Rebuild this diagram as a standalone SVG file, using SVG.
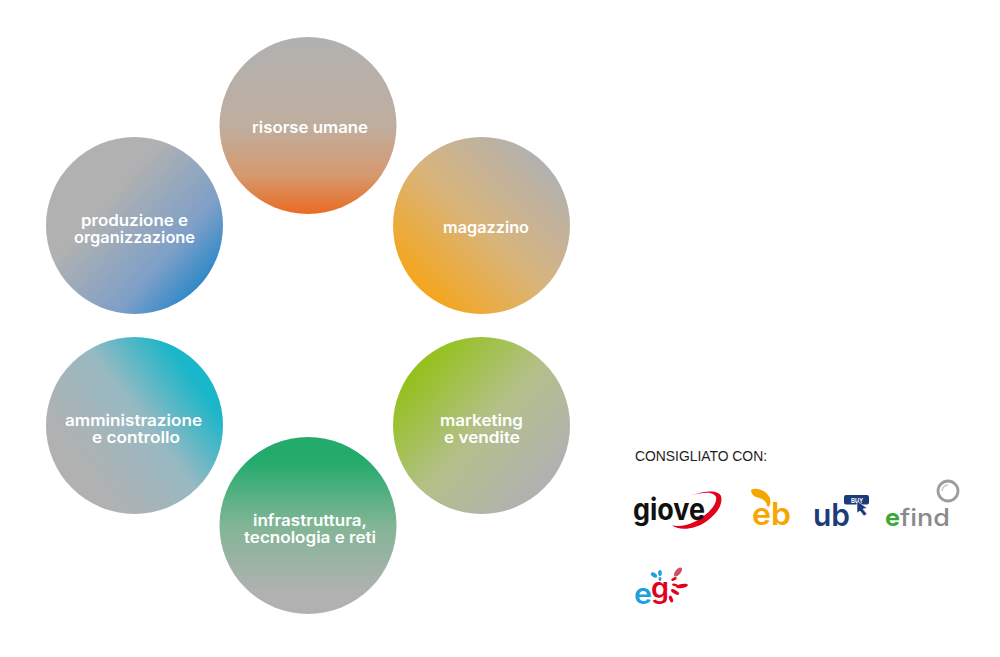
<svg xmlns="http://www.w3.org/2000/svg" width="1000" height="657" viewBox="0 0 1000 657">
<defs>
<linearGradient id="gTop" x1="0" y1="0" x2="0" y2="1"><stop offset="0" stop-color="#b1b1b1"/><stop offset=".5" stop-color="#bfae9f"/><stop offset=".78" stop-color="#d6996f"/><stop offset="1" stop-color="#ea6b22"/></linearGradient>
<linearGradient id="gMag" gradientUnits="userSpaceOnUse" x1="545" y1="160" x2="415" y2="292"><stop offset="0" stop-color="#b1b1b1"/><stop offset=".5" stop-color="#d9b47c"/><stop offset="1" stop-color="#f6a516"/></linearGradient>
<linearGradient id="gMkt" gradientUnits="userSpaceOnUse" x1="415" y1="375" x2="540" y2="490"><stop offset="0" stop-color="#95c11f"/><stop offset=".5" stop-color="#b3c08a"/><stop offset="1" stop-color="#b1b1b1"/></linearGradient>
<linearGradient id="gInf" x1="0" y1="0" x2="0" y2="1"><stop offset="0" stop-color="#24ab6c"/><stop offset=".14" stop-color="#24ab6c"/><stop offset=".5" stop-color="#82b596"/><stop offset=".88" stop-color="#b1b1b1"/><stop offset="1" stop-color="#b1b1b1"/></linearGradient>
<linearGradient id="gAdm" gradientUnits="userSpaceOnUse" x1="198" y1="384" x2="82" y2="472"><stop offset="0" stop-color="#1ab6c9"/><stop offset=".45" stop-color="#98b9c2"/><stop offset="1" stop-color="#b1b1b1"/></linearGradient>
<linearGradient id="gPro" gradientUnits="userSpaceOnUse" x1="214" y1="288" x2="110" y2="196"><stop offset="0" stop-color="#1a83c8"/><stop offset=".4" stop-color="#7d9fc8"/><stop offset="1" stop-color="#b1b1b1"/></linearGradient>
</defs>
<style>
.lbl{font-family:"Inter","Liberation Sans",sans-serif;font-weight:600;font-size:15.5px;fill:#fff;text-anchor:middle}
.cap{font-family:"Liberation Sans",Arial,sans-serif;font-size:14px;fill:#1d1d1b}
.logo{font-family:"Inter","Liberation Sans",sans-serif;font-weight:700}
</style>
<rect width="1000" height="657" fill="#fff"/>
<g id="node-risorse"><circle cx="308" cy="125.500" r="88.500" fill="url(#gTop)"/><text class="lbl" x="310" y="132.500" textLength="116" lengthAdjust="spacingAndGlyphs">risorse umane</text></g>
<g id="node-magazzino"><circle cx="481.500" cy="225.500" r="88.500" fill="url(#gMag)"/><text class="lbl" x="486" y="233" textLength="86" lengthAdjust="spacingAndGlyphs">magazzino</text></g>
<g id="node-marketing"><circle cx="481.500" cy="425.500" r="88.500" fill="url(#gMkt)"/><text class="lbl" x="481.500" y="425.500" textLength="83" lengthAdjust="spacingAndGlyphs">marketing</text><text class="lbl" x="482" y="442.500" textLength="76" lengthAdjust="spacingAndGlyphs">e vendite</text></g>
<g id="node-infrastruttura"><circle cx="308" cy="525.500" r="88.500" fill="url(#gInf)"/><text class="lbl" x="310" y="525.500" textLength="114" lengthAdjust="spacingAndGlyphs">infrastruttura,</text><text class="lbl" x="310" y="542.500" textLength="132" lengthAdjust="spacingAndGlyphs">tecnologia e reti</text></g>
<g id="node-amministrazione"><circle cx="134.500" cy="425.500" r="88.500" fill="url(#gAdm)"/><text class="lbl" x="133.500" y="425.500" textLength="137" lengthAdjust="spacingAndGlyphs">amministrazione</text><text class="lbl" x="136" y="442.500" textLength="88" lengthAdjust="spacingAndGlyphs">e controllo</text></g>
<g id="node-produzione"><circle cx="134.500" cy="225.500" r="88.500" fill="url(#gPro)"/><text class="lbl" x="134.500" y="225.500" textLength="107" lengthAdjust="spacingAndGlyphs">produzione e</text><text class="lbl" x="134.500" y="242.500" textLength="121" lengthAdjust="spacingAndGlyphs">organizzazione</text></g>
<g id="connectors"/>
<text class="cap" x="635" y="460.500" textLength="132" lengthAdjust="spacingAndGlyphs">CONSIGLIATO CON:</text>
<g id="logo-giove">
<path d="M672 525C678 531 695 530 707 521C718 513 723 504 721 496C719 491 708 489 690 496C705 491 714 492 716 497C718 505 705 517 694 522C686 526 677 527 672 525Z" fill="#e2001a"/>
<text class="logo" x="633" y="520" font-size="30" fill="#111" textLength="72" lengthAdjust="spacingAndGlyphs">giove</text>
</g>
<g id="logo-eb">
<path d="M751 490C756 487 766 490 770 498C771 502 770 505 769 507L767 506C767 500 760 498 756 497C753 496 751 493 751 490Z" fill="#f7a600"/>
<text x="752" y="525" font-family="Inter,sans-serif" font-weight="600" font-size="31" fill="#f7a600" textLength="39" lengthAdjust="spacingAndGlyphs">eb</text>
</g>
<g id="logo-ub">
<rect x="844" y="495" width="25" height="9.500" rx="2" fill="#1d3b7a"/>
<text x="851" y="502.500" font-family="Liberation Sans, sans-serif" font-weight="700" font-size="7" fill="#fff" textLength="12" lengthAdjust="spacingAndGlyphs">BUY</text>
<path d="M857 501L867 508L863 509L867 514L864 516L860 511L857 513Z" fill="#1d3b7a" stroke="#fff" stroke-width=".6"/>
<text x="813" y="526" font-family="Inter,sans-serif" font-weight="600" font-size="31" fill="#1d3b7a" textLength="37" lengthAdjust="spacingAndGlyphs">ub</text>
</g>
<g id="logo-efind">
<circle cx="948" cy="491" r="10" fill="none" stroke="#9d9d9c" stroke-width="2.800"/>
<path d="M942 491A6 6 0 0 1 948 485" fill="none" stroke="#c6c6c6" stroke-width="1.500"/>
<text class="logo" x="885" y="526" font-size="24" fill="#3aaa35" textLength="15" lengthAdjust="spacingAndGlyphs">e</text>
<text x="900" y="526" font-family="Inter, sans-serif" font-weight="500" font-size="24" fill="#8a8a8a" textLength="50" lengthAdjust="spacingAndGlyphs">find</text>
</g>
<g id="logo-eg">
<text x="634" y="604" font-family="Inter,sans-serif" font-weight="600" font-size="29" fill="#1d9fe0" textLength="18" lengthAdjust="spacingAndGlyphs">e</text>
<text x="651" y="598" font-family="Inter,sans-serif" font-weight="600" font-size="28" fill="#e2001a" textLength="18" lengthAdjust="spacingAndGlyphs">g</text>
<ellipse cx="654" cy="575" rx="3.500" ry="2" transform="rotate(35 654 575)" fill="#1d9fe0"/>
<ellipse cx="660" cy="573" rx="1.800" ry="3" fill="#1d9fe0"/>
<ellipse cx="660" cy="579" rx="1.500" ry="2" fill="#1d9fe0"/>
<ellipse cx="678" cy="572" rx="5.500" ry="2.600" transform="rotate(-50 678 572)" fill="#cf4f64"/>
<ellipse cx="674" cy="579" rx="3" ry="1.500" transform="rotate(-25 674 579)" fill="#e2001a"/>
<ellipse cx="682" cy="586" rx="6" ry="2" transform="rotate(-10 682 586)" fill="#e2001a"/>
<ellipse cx="675" cy="585" rx="3" ry="1.300" transform="rotate(10 675 585)" fill="#e2001a"/>
<ellipse cx="675" cy="592" rx="4.500" ry="1.800" transform="rotate(30 675 592)" fill="#e2001a"/>
<ellipse cx="671" cy="599" rx="1.800" ry="3.500" transform="rotate(-20 671 599)" fill="#e2001a"/>
</g>
</svg>
